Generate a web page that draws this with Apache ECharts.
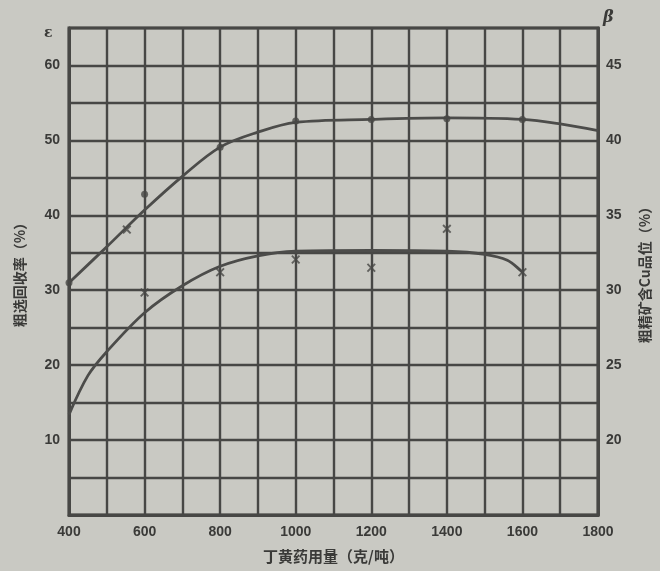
<!DOCTYPE html>
<html><head><meta charset="utf-8">
<script src="https://cdn.jsdelivr.net/npm/echarts@6/dist/echarts.min.js"></script>
<style>html,body{margin:0;padding:0;background:#c9c9c3;}#c{width:660px;height:571px;}</style>
</head><body><div id="c"></div>
<script>
// Dosage of butyl xanthate (g/t)
const xMin = 400, xMax = 1800;
// Upper curve: rougher recovery ε (%) – left axis
const recCurveX = [400, 500, 600, 700, 800, 900, 1000, 1200, 1400, 1600, 1700, 1800];
const recCurveY = [31, 35.8, 40.7, 45.2, 49.1, 51.1, 52.4, 52.8, 53.0, 52.8, 52.2, 51.3];
const recDotX = [400, 600, 800, 1000, 1200, 1400, 1600];
const recDotY = [31, 42.8, 49.1, 52.6, 52.8, 52.9, 52.8];
const recCrossX = [553];
const recCrossY = [38.1];
// Lower curve: rougher concentrate Cu grade β (%) – right axis
const gradeCurveX = [400, 450, 500, 600, 700, 800, 900, 1000, 1200, 1400, 1500, 1560, 1600];
const gradeCurveY = [21.7, 24.3, 25.9, 28.5, 30.3, 31.6, 32.3, 32.6, 32.65, 32.6, 32.4, 32.0, 31.2];
const gradeCrossX = [600, 800, 1000, 1200, 1400, 1600];
const gradeCrossY = [29.85, 31.2, 32.05, 31.5, 34.1, 31.2];
// Axis texts
const xName = '丁黄药用量（克/吨）';
const leftName = '粗选回收率（%）';
const rightName = '粗精矿含Cu品位（%）';

const zip = (a, b) => a.map((v, i) => [v, b[i]]);
const ink = '#474745';
const txt = '#3a3a38';
const crossPath = 'path://M0,1.5L1.5,0L5,3.5L8.5,0L10,1.5L6.5,5L10,8.5L8.5,10L5,6.5L1.5,10L0,8.5L3.5,5Z';
const labelFont = {color: txt, fontSize: 14, fontWeight: 'bold', fontFamily: 'Liberation Sans'};

const chart = echarts.init(document.getElementById('c'));
chart.setOption({
  backgroundColor: '#c9c9c3',
  animation: false,
  grid: {left: 69, right: 62, top: 28, bottom: 56, show: true, borderColor: ink, borderWidth: 3, backgroundColor: 'transparent'},
  xAxis: {
    type: 'value', min: xMin, max: xMax, interval: 100,
    name: xName, nameLocation: 'middle', nameGap: 34,
    nameTextStyle: {color: txt, fontSize: 15, fontWeight: 'bold', fontFamily: 'Noto Sans CJK SC'},
    axisLine: {show: true, lineStyle: {color: ink, width: 3}},
    axisTick: {show: false},
    axisLabel: Object.assign({margin: 10, formatter: v => (v % 200 === 0 ? String(v) : '')}, labelFont),
    splitLine: {show: true, lineStyle: {color: ink, width: 2.4}}
  },
  yAxis: [{
    type: 'value', min: 0, max: 65, interval: 5, position: 'left',
    name: leftName, nameLocation: 'middle', nameGap: 42, nameRotate: 90,
    nameTextStyle: {color: txt, fontSize: 14, fontWeight: 'bold', fontFamily: 'Noto Sans CJK SC'},
    axisLine: {show: true, lineStyle: {color: ink, width: 3}},
    axisTick: {show: false},
    axisLabel: Object.assign({margin: 9, formatter: v => (v % 10 === 0 && v > 0 && v <= 60 ? String(v) : '')}, labelFont),
    splitLine: {show: true, lineStyle: {color: ink, width: 2.4}}
  }, {
    type: 'value', min: 15, max: 47.5, interval: 2.5, position: 'right',
    name: rightName, nameLocation: 'middle', nameGap: 40, nameRotate: 90,
    nameTextStyle: {color: txt, fontSize: 14, fontWeight: 'bold', fontFamily: 'Noto Sans CJK SC'},
    axisLine: {show: true, lineStyle: {color: ink, width: 3}},
    axisTick: {show: false},
    axisLabel: Object.assign({margin: 8, formatter: v => (v % 5 === 0 && v > 15 ? String(v) : '')}, labelFont),
    splitLine: {show: false}
  }],
  graphic: [
    {type: 'text', left: 44, top: 26, style: {text: 'ε', fill: txt, font: 'bold 14px "DejaVu Serif"'}},
    {type: 'text', left: 603, top: 10, style: {text: 'β', fill: txt, font: 'italic bold 16px "DejaVu Serif"'}}
  ],
  series: [
    {type: 'line', yAxisIndex: 0, data: zip(recCurveX, recCurveY), smooth: 0.35, showSymbol: false,
     lineStyle: {color: '#4c4c4a', width: 2.8}, z: 3},
    {type: 'scatter', yAxisIndex: 0, data: zip(recDotX, recDotY), symbol: 'circle', symbolSize: 7,
     itemStyle: {color: '#474745'}, z: 4},
    {type: 'scatter', yAxisIndex: 0, data: zip(recCrossX, recCrossY), symbol: crossPath, symbolSize: 9,
     itemStyle: {color: '#474745'}, z: 4},
    {type: 'line', yAxisIndex: 1, data: zip(gradeCurveX, gradeCurveY), smooth: 0.35, showSymbol: false,
     lineStyle: {color: '#4c4c4a', width: 2.8}, z: 3},
    {type: 'scatter', yAxisIndex: 1, data: zip(gradeCrossX, gradeCrossY), symbol: crossPath, symbolSize: 9,
     itemStyle: {color: '#474745'}, z: 4}
  ]
});
</script></body></html>
